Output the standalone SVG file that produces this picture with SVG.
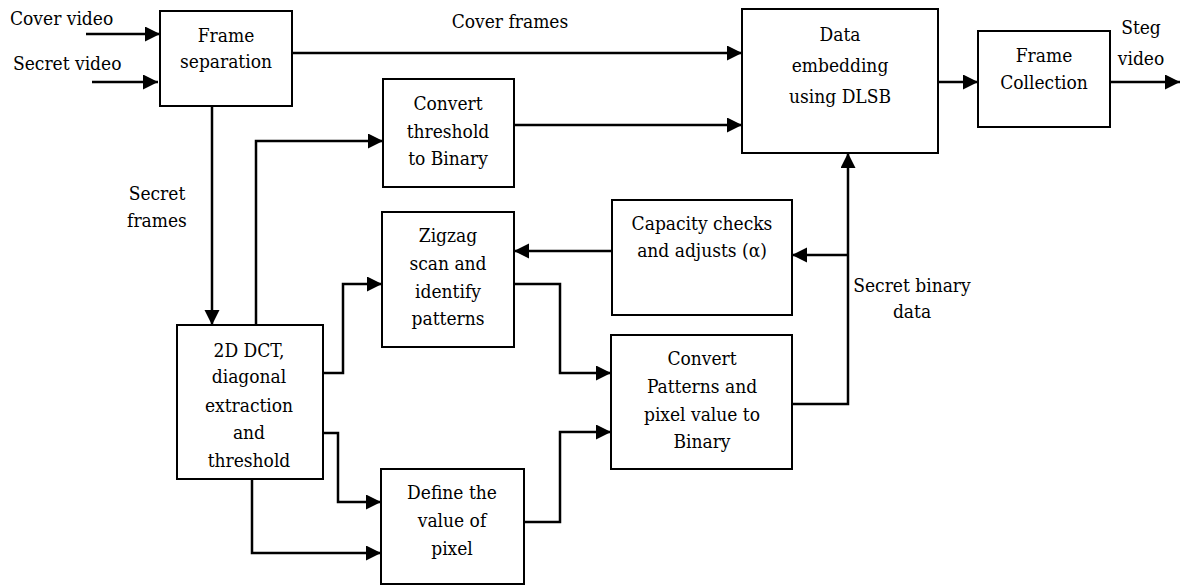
<svg xmlns="http://www.w3.org/2000/svg" width="1181" height="587" viewBox="0 0 1181 587" font-family="DejaVu Serif Condensed, DejaVu Serif, serif" font-stretch="condensed" font-size="19">
<style>
.box{fill:#fff;stroke:#000;stroke-width:2}
.c{fill:none;stroke:#000;stroke-width:2.5}
.a{marker-end:url(#ah)}
.m{text-anchor:middle}
</style>
<defs>
<marker id="ah" markerUnits="userSpaceOnUse" markerWidth="16" markerHeight="16" refX="15" refY="7.5" orient="auto">
<path d="M0,0 L15,7.5 L0,15 z" fill="#000"/>
</marker>
</defs>
<rect width="1181" height="587" fill="#fff"/>
<g id="connectors">
<line class="c a" x1="86" y1="34" x2="160" y2="34"/>
<line class="c a" x1="92" y1="82" x2="158" y2="82"/>
<line class="c a" x1="292" y1="53" x2="742" y2="53"/>
<polyline class="c a" points="256,325 256,141 383,141"/>
<line class="c a" x1="514" y1="125" x2="742" y2="125"/>
<line class="c a" x1="938" y1="82" x2="978" y2="82"/>
<line class="c a" x1="1110" y1="82" x2="1180" y2="82"/>
<line class="c a" x1="212" y1="106" x2="212" y2="325"/>
<polyline class="c a" points="323,373 343,373 343,284 382,284"/>
<polyline class="c a" points="514,284 560,284 560,373 611,373"/>
<line class="c a" x1="612" y1="251" x2="514" y2="251"/>
<line class="c a" x1="848" y1="255" x2="792" y2="255"/>
<polyline class="c a" points="792,404 848,404 848,153"/>
<polyline class="c a" points="323,433 338,433 338,502 381,502"/>
<polyline class="c a" points="252,479 252,553 381,553"/>
<polyline class="c a" points="524,522 560,522 560,432 611,432"/>
<text x="10" y="25">Cover video</text>
<text x="13" y="70">Secret video</text>
<text class="m" x="510" y="28">Cover frames</text>
<text class="m" x="1141" y="34">Steg</text>
<text class="m" x="1141" y="65">video</text>
<text class="m" x="157" y="200">Secret</text>
<text class="m" x="157" y="227">frames</text>
<text class="m" x="912" y="292">Secret binary</text>
<text class="m" x="912" y="318">data</text>
</g>
<g id="frame-separation">
<rect class="box" x="160" y="11" width="132" height="95"/>
<text class="m" x="226" y="42">Frame</text>
<text class="m" x="226" y="68">separation</text>
</g>
<g id="convert-threshold">
<rect class="box" x="383" y="79" width="131" height="108"/>
<text class="m" x="448" y="110">Convert</text>
<text class="m" x="448" y="138">threshold</text>
<text class="m" x="448" y="165">to Binary</text>
</g>
<g id="data-embedding">
<rect class="box" x="742" y="9" width="196" height="144"/>
<text class="m" x="840" y="41">Data</text>
<text class="m" x="840" y="72">embedding</text>
<text class="m" x="840" y="103">using DLSB</text>
</g>
<g id="frame-collection">
<rect class="box" x="978" y="31" width="132" height="96"/>
<text class="m" x="1044" y="62">Frame</text>
<text class="m" x="1044" y="89">Collection</text>
</g>
<g id="dct">
<rect class="box" x="177" y="325" width="146" height="154"/>
<text class="m" x="249" y="357">2D DCT,</text>
<text class="m" x="249" y="383">diagonal</text>
<text class="m" x="249" y="412">extraction</text>
<text class="m" x="249" y="439">and</text>
<text class="m" x="249" y="467">threshold</text>
</g>
<g id="zigzag">
<rect class="box" x="382" y="212" width="132" height="135"/>
<text class="m" x="448" y="242">Zigzag</text>
<text class="m" x="448" y="270">scan and</text>
<text class="m" x="448" y="298">identify</text>
<text class="m" x="448" y="325">patterns</text>
</g>
<g id="capacity">
<rect class="box" x="612" y="200" width="180" height="115"/>
<text class="m" x="702" y="230">Capacity checks</text>
<text class="m" x="702" y="257">and adjusts (α)</text>
</g>
<g id="convert-patterns">
<rect class="box" x="611" y="335" width="181" height="134"/>
<text class="m" x="702" y="365">Convert</text>
<text class="m" x="702" y="393">Patterns and</text>
<text class="m" x="702" y="421">pixel value to</text>
<text class="m" x="702" y="448">Binary</text>
</g>
<g id="define-pixel">
<rect class="box" x="381" y="469" width="143" height="115"/>
<text class="m" x="452" y="499">Define the</text>
<text class="m" x="452" y="527">value of</text>
<text class="m" x="452" y="555">pixel</text>
</g>
</svg>
